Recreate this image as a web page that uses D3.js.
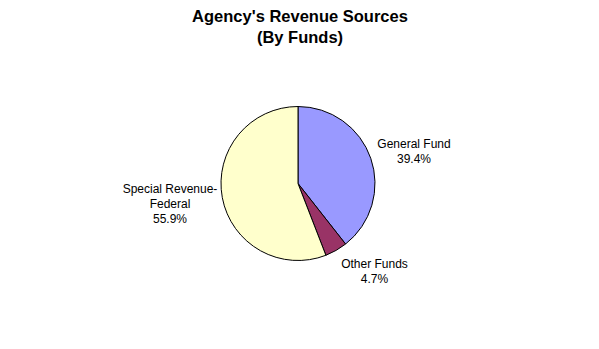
<!DOCTYPE html>
<html>
<head>
<meta charset="utf-8">
<script src="https://cdn.jsdelivr.net/npm/d3@7"></script>
<style>
  html, body { margin: 0; padding: 0; background: #fff; }
  svg { display: block; }
</style>
</head>
<body>
<div id="chart"></div>
<script>
// Revenue sources by fund, percent of total
const categories = ["General Fund", "Other Funds", "Special Revenue-\nFederal"];
const shares = [39.4, 4.7, 55.9];
const colors = ["#9999ff", "#993366", "#ffffcc"];

const width = 599, height = 349;
const cx = 298, cy = 183.5, radius = 77;

// Label centres relative to the pie centre
const labelPos = [[116, -31.7], [76.5, 88.3], [-128, 20.8]];

const svg = d3.select("#chart").append("svg")
  .attr("width", width).attr("height", height);

svg.append("g")
  .attr("font-family", "'Liberation Sans', Arial, sans-serif")
  .attr("font-weight", "bold")
  .attr("font-size", 16.5)
  .attr("text-anchor", "middle")
  .selectAll("text")
  .data(["Agency's Revenue Sources", "(By Funds)"])
  .join("text")
  .attr("x", 300)
  .attr("y", (d, i) => 22 + i * 21)
  .text(d => d);

const data = categories.map((c, i) => ({ name: c, value: shares[i], color: colors[i] }));

const pie = d3.pie().sort(null).value(d => d.value);
const arc = d3.arc().innerRadius(0).outerRadius(radius);

const g = svg.append("g").attr("transform", `translate(${cx},${cy})`);

g.selectAll("path")
  .data(pie(data))
  .join("path")
  .attr("d", arc)
  .attr("fill", d => d.data.color)
  .attr("stroke", "#000")
  .attr("stroke-width", 1);

const labels = g.selectAll("g.label")
  .data(pie(data))
  .join("g")
  .attr("class", "label")
  .attr("transform", (d, i) => `translate(${labelPos[i][0]},${labelPos[i][1]})`)
  .attr("font-family", "'Liberation Sans', Arial, sans-serif")
  .attr("font-size", 12)
  .attr("text-anchor", "middle")
  .attr("fill", "#000");

labels.each(function(d) {
  const lines = d.data.name.split("\n").concat([d3.format(".1f")(d.data.value) + "%"]);
  const n = lines.length;
  d3.select(this).selectAll("text")
    .data(lines)
    .join("text")
    .attr("y", (t, j) => (j - (n - 1) / 2) * 15 + 4)
    .text(t => t);
});
</script>
</body>
</html>
